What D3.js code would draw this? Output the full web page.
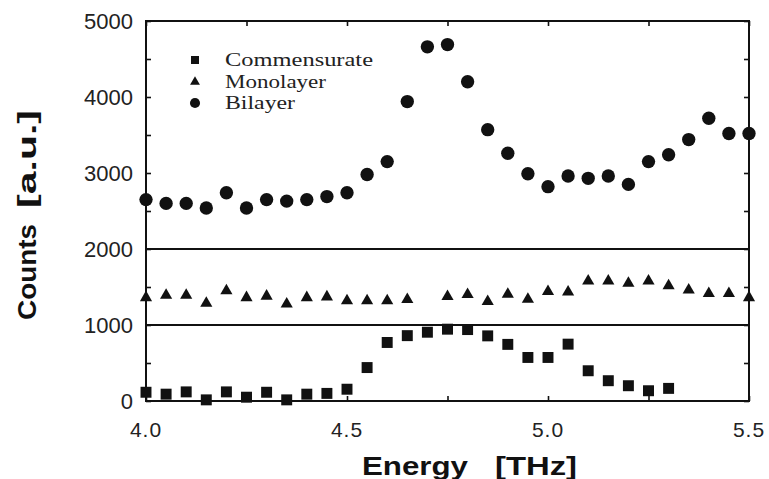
<!DOCTYPE html>
<html>
<head>
<meta charset="utf-8">
<script src="https://cdn.jsdelivr.net/npm/d3@7"></script>
<style>
html,body{margin:0;padding:0;background:#fff;}
svg{display:block;}
</style>
</head>
<body>
<svg id="chart" width="769" height="479"></svg>
<script>
const energy = [4.00,4.05,4.10,4.15,4.20,4.25,4.30,4.35,4.40,4.45,4.50,
                4.55,4.60,4.65,4.70,4.75,4.80,4.85,4.90,4.95,5.00,
                5.05,5.10,5.15,5.20,5.25,5.30,5.35,5.40,5.45,5.50];
const bilayer = [2650,2600,2600,2540,2740,2540,2650,2630,2650,2690,2740,
                 2980,3150,3940,4660,4690,4200,3570,3260,2990,2820,
                 2960,2930,2960,2850,3150,3240,3440,3720,3520,3520];
const monolayer = [1360,1390,1390,1285,1450,1360,1380,1275,1360,1370,1320,
                   1320,1320,1335,null,1375,1400,1310,1404,1339,1440,
                   1435,1580,1580,1550,1580,1515,1460,1415,1415,1360];
const commensurate = [115,90,120,15,120,50,115,15,90,100,155,
                      440,770,860,905,945,940,857,745,573,573,
                      748,398,267,201,135,166,null,null,null,null];
const yTicks = [0,1000,2000,3000,4000,5000];
const yMinor = [500,1500,2500,3500,4500];
const xTicks = [4.0,4.5,5.0,5.5];
const xMinor = [4.25,4.75,5.25];
const separators = [1000,2000];
const seriesNames = ["Commensurate","Monolayer","Bilayer"];

const svg = d3.select("#chart");
const L = 146, R = 749, T = 21, B = 401;
const x = d3.scaleLinear().domain([4.0,5.5]).range([L,R]);
const y = d3.scaleLinear().domain([0,5000]).range([B,T]);
const ink = "#111";

const g = svg.append("g");

// frame
g.append("rect").attr("x",L).attr("y",T).attr("width",R-L).attr("height",B-T)
  .attr("fill","none").attr("stroke",ink).attr("stroke-width",2);

// separators
g.selectAll("line.sep").data(separators).join("line").attr("class","sep")
  .attr("x1",L).attr("x2",R).attr("y1",d=>y(d)).attr("y2",d=>y(d))
  .attr("stroke",ink).attr("stroke-width",2);

// axes with inward ticks
const leftAx = d3.axisLeft(y).tickValues(yTicks.concat(yMinor)).tickSize(-5).tickFormat("");
const rightAx = d3.axisRight(y).tickValues(yTicks.concat(yMinor)).tickSize(-5).tickFormat("");
const topAx = d3.axisTop(x).tickValues(xTicks.concat(xMinor)).tickSize(-5).tickFormat("");
const botAx = d3.axisBottom(x).tickValues(xTicks.concat(xMinor)).tickSize(-5).tickFormat("");
[[leftAx,`translate(${L},0)`],[rightAx,`translate(${R},0)`],[topAx,`translate(0,${T})`],[botAx,`translate(0,${B})`]]
.forEach(([ax,tr])=>{
  const a = g.append("g").attr("transform",tr).call(ax);
  a.select(".domain").remove();
  a.selectAll("line").attr("stroke",ink).attr("stroke-width",1.6);
});

// tick labels
g.selectAll("text.yl").data(yTicks).join("text").attr("class","yl")
  .attr("x",133).attr("y",d=>y(d)).attr("dy","0.38em")
  .attr("text-anchor","end").attr("font-family","Liberation Sans, Arial, sans-serif")
  .attr("font-size",22).attr("fill","#222").text(d=>d);
g.selectAll("text.xl").data(xTicks).join("text").attr("class","xl")
  .attr("x",d=>x(d)).attr("y",437)
  .attr("text-anchor","middle").attr("font-family","Liberation Sans, Arial, sans-serif")
  .attr("font-size",21).attr("fill","#222").attr("letter-spacing",1).text(d=>d.toFixed(1));

// axis titles (two words each, stretched like the reference)
const titleFont = {family:"Liberation Sans, Arial, sans-serif", size:25};
[["Energy",362,106],["[THz]",495,82]].forEach(([t,x0,len])=>{
  g.append("text").attr("x",x0).attr("y",475)
    .attr("font-family",titleFont.family).attr("font-weight","bold")
    .attr("font-size",titleFont.size).attr("fill",ink)
    .attr("textLength",len).attr("lengthAdjust","spacingAndGlyphs").text(t);
});
[["Counts",320,96],["[a.u.]",208,98]].forEach(([t,y0,len])=>{
  g.append("text").attr("transform",`translate(36,${y0}) rotate(-90)`)
    .attr("font-family",titleFont.family).attr("font-weight","bold")
    .attr("font-size",titleFont.size).attr("fill",ink)
    .attr("textLength",len).attr("lengthAdjust","spacingAndGlyphs").text(t);
});

// data
const symSq = d3.symbol().type(d3.symbolSquare).size(120);
const symTri = d3.symbol().type(d3.symbolTriangle).size(64);
const symCir = d3.symbol().type(d3.symbolCircle).size(140);
function plot(vals, sym, cls){
  const pts = energy.map((e,i)=>({e, v: vals[i]})).filter(d=>d.v!==null);
  g.selectAll("path."+cls).data(pts).join("path").attr("class",cls)
    .attr("transform",d=>`translate(${x(d.e)},${y(d.v)})`)
    .attr("d",sym()).attr("fill",ink);
}
plot(commensurate, symSq, "sq");
plot(monolayer, symTri, "tri");
plot(bilayer, symCir, "cir");

// legend
const legSyms = [d3.symbol().type(d3.symbolSquare).size(64),
                 d3.symbol().type(d3.symbolTriangle).size(42),
                 d3.symbol().type(d3.symbolCircle).size(80)];
const legY = [60,82,103];
const legLen = [148,101,70];
const leg = g.append("g");
seriesNames.forEach((n,i)=>{
  leg.append("path").attr("transform",`translate(195,${legY[i]})`).attr("d",legSyms[i]()).attr("fill",ink);
  leg.append("text").attr("x",225).attr("y",legY[i]+6)
    .attr("font-family","Liberation Serif, Times New Roman, serif")
    .attr("font-size",19.5).attr("fill","#222")
    .attr("textLength",legLen[i]).attr("lengthAdjust","spacingAndGlyphs").text(n);
});
</script>
</body>
</html>
